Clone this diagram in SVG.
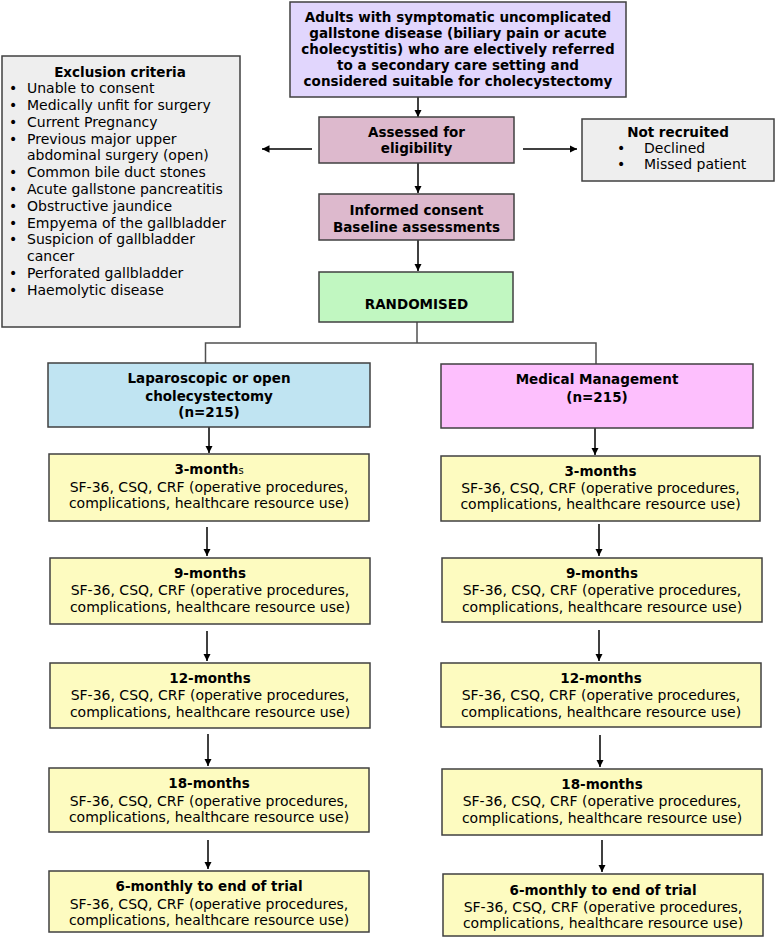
<svg xmlns="http://www.w3.org/2000/svg" width="775" height="937" viewBox="0 0 775 937">
<style>
text{font-family:"DejaVu Sans","Liberation Sans",sans-serif;fill:#000;}
.b{font-weight:bold;font-size:13.5px;text-anchor:middle;}
.t{font-size:14px;text-anchor:middle;}
.l{font-size:14px;}
.box{stroke:#404040;stroke-width:1.5;}
.grey{fill:#eeeeee;}
.lav{fill:#e1d6fd;}
.mauve{fill:#ddb9cd;}
.green{fill:#c1f7c1;}
.blue{fill:#c0e4f2;}
.pink{fill:#fdbffd;}
.yel{fill:#fdfbc0;}
.arr{stroke:#000;stroke-width:1.5;fill:none;marker-end:url(#ah);}
.ln{stroke:#505050;stroke-width:1.5;fill:none;}
</style>
<defs>
<marker id="ah" viewBox="0 0 10 10" refX="10" refY="5" markerWidth="5" markerHeight="5" orient="auto" markerUnits="strokeWidth">
<path d="M0,0 L10,5 L0,10 z" fill="#000"/>
</marker>
</defs>
<rect width="775" height="937" fill="#fff"/>

<g id="connectors">
<line class="arr" x1="418" y1="97" x2="418" y2="117"/>
<line class="arr" x1="312" y1="149" x2="262" y2="149"/>
<line class="arr" x1="523" y1="149" x2="577" y2="149"/>
<line class="arr" x1="418" y1="163" x2="418" y2="193"/>
<line class="arr" x1="418" y1="240" x2="418" y2="271"/>
<polyline class="ln" points="417,322 417,343"/>
<polyline class="ln" points="205.5,364 205.5,343 596,343 596,365"/>
<line class="arr" x1="209" y1="427" x2="209" y2="453"/>
<line class="arr" x1="207" y1="527" x2="207" y2="556"/>
<line class="arr" x1="207" y1="631" x2="207" y2="661"/>
<line class="arr" x1="208" y1="734" x2="208" y2="766"/>
<line class="arr" x1="208" y1="840" x2="208" y2="869"/>
<line class="arr" x1="595" y1="428" x2="595" y2="455"/>
<line class="arr" x1="599" y1="524" x2="599" y2="556"/>
<line class="arr" x1="599" y1="630" x2="599" y2="661"/>
<line class="arr" x1="600" y1="735" x2="600" y2="767"/>
<line class="arr" x1="602" y1="840" x2="602" y2="872"/>
</g>

<g id="population">
<rect class="box lav" x="290" y="2" width="336" height="95"/>
<text class="b" x="458" y="22">Adults with symptomatic uncomplicated</text>
<text class="b" x="458" y="38">gallstone disease (biliary pain or acute</text>
<text class="b" x="458" y="54">cholecystitis) who are electively referred</text>
<text class="b" x="458" y="70">to a secondary care setting and</text>
<text class="b" x="458" y="86">considered suitable for cholecystectomy</text>
</g>

<g id="exclusion">
<rect class="box grey" x="2" y="56" width="238" height="271"/>
<text class="b" x="120" y="77">Exclusion criteria</text>
<text class="l" x="9" y="93">•</text><text class="l" x="27" y="93">Unable to consent</text>
<text class="l" x="9" y="110">•</text><text class="l" x="27" y="110">Medically unfit for surgery</text>
<text class="l" x="9" y="127">•</text><text class="l" x="27" y="127">Current Pregnancy</text>
<text class="l" x="9" y="143.5">•</text><text class="l" x="27" y="143.5">Previous major upper</text>
<text class="l" x="27" y="160.3">abdominal surgery (open)</text>
<text class="l" x="9" y="177">•</text><text class="l" x="27" y="177">Common bile duct stones</text>
<text class="l" x="9" y="194">•</text><text class="l" x="27" y="194">Acute gallstone pancreatitis</text>
<text class="l" x="9" y="210.7">•</text><text class="l" x="27" y="210.7">Obstructive jaundice</text>
<text class="l" x="9" y="227.6">•</text><text class="l" x="27" y="227.6">Empyema of the gallbladder</text>
<text class="l" x="9" y="244.4">•</text><text class="l" x="27" y="244.4">Suspicion of gallbladder</text>
<text class="l" x="27" y="261.3">cancer</text>
<text class="l" x="9" y="278.2">•</text><text class="l" x="27" y="278.2">Perforated gallbladder</text>
<text class="l" x="9" y="295">•</text><text class="l" x="27" y="295">Haemolytic disease</text>
</g>

<g id="assessed">
<rect class="box mauve" x="319" y="117" width="195" height="46"/>
<text class="b" x="416.5" y="137">Assessed for</text>
<text class="b" x="416.5" y="153">eligibility</text>
</g>

<g id="not-recruited">
<rect class="box grey" x="582" y="119" width="192" height="62"/>
<text class="b" x="678" y="137">Not recruited</text>
<text class="l" x="617" y="153">•</text><text class="l" x="644" y="153">Declined</text>
<text class="l" x="617" y="169">•</text><text class="l" x="644" y="169">Missed patient</text>
</g>

<g id="consent">
<rect class="box mauve" x="319" y="194" width="195" height="46"/>
<text class="b" x="416.5" y="215">Informed consent</text>
<text class="b" x="416.5" y="232">Baseline assessments</text>
</g>

<g id="randomised">
<rect class="box green" x="319" y="272" width="194" height="50"/>
<text class="b" x="416.5" y="309">RANDOMISED</text>
</g>

<g id="surgery">
<rect class="box blue" x="48" y="363" width="322" height="64"/>
<text class="b" x="209" y="383">Laparoscopic or open</text>
<text class="b" x="209" y="401">cholecystectomy</text>
<text class="b" x="209" y="417">(n=215)</text>
</g>

<g id="medical">
<rect class="box pink" x="441" y="364" width="312" height="64"/>
<text class="b" x="597" y="384">Medical Management</text>
<text class="b" x="597" y="402">(n=215)</text>
</g>

<g id="s-3m">
<rect class="box yel" x="49" y="454" width="320" height="67"/>
<text class="b" x="209" y="474">3-month<tspan font-size="10" font-weight="normal">s</tspan></text>
<text class="t" x="209" y="492">SF-36, CSQ, CRF (operative procedures,</text>
<text class="t" x="209" y="508">complications, healthcare resource use)</text>
</g>
<g id="s-9m">
<rect class="box yel" x="50" y="558" width="320" height="66"/>
<text class="b" x="210" y="578">9-months</text>
<text class="t" x="210" y="595">SF-36, CSQ, CRF (operative procedures,</text>
<text class="t" x="210" y="612">complications, healthcare resource use)</text>
</g>
<g id="s-12m">
<rect class="box yel" x="50" y="663" width="320" height="65"/>
<text class="b" x="210" y="683">12-months</text>
<text class="t" x="210" y="700">SF-36, CSQ, CRF (operative procedures,</text>
<text class="t" x="210" y="717">complications, healthcare resource use)</text>
</g>
<g id="s-18m">
<rect class="box yel" x="49" y="768" width="320" height="64"/>
<text class="b" x="209" y="788">18-months</text>
<text class="t" x="209" y="806">SF-36, CSQ, CRF (operative procedures,</text>
<text class="t" x="209" y="822">complications, healthcare resource use)</text>
</g>
<g id="s-6mly">
<rect class="box yel" x="49" y="871" width="320" height="61"/>
<text class="b" x="209" y="891">6-monthly to end of trial</text>
<text class="t" x="209" y="909">SF-36, CSQ, CRF (operative procedures,</text>
<text class="t" x="209" y="925">complications, healthcare resource use)</text>
</g>

<g id="m-3m">
<rect class="box yel" x="441" y="456" width="319" height="65"/>
<text class="b" x="600.5" y="476">3-months</text>
<text class="t" x="600.5" y="493">SF-36, CSQ, CRF (operative procedures,</text>
<text class="t" x="600.5" y="509">complications, healthcare resource use)</text>
</g>
<g id="m-9m">
<rect class="box yel" x="442" y="558" width="320" height="64"/>
<text class="b" x="602" y="578">9-months</text>
<text class="t" x="602" y="595">SF-36, CSQ, CRF (operative procedures,</text>
<text class="t" x="602" y="612">complications, healthcare resource use)</text>
</g>
<g id="m-12m">
<rect class="box yel" x="441" y="663" width="320" height="64"/>
<text class="b" x="601" y="683">12-months</text>
<text class="t" x="601" y="700">SF-36, CSQ, CRF (operative procedures,</text>
<text class="t" x="601" y="717">complications, healthcare resource use)</text>
</g>
<g id="m-18m">
<rect class="box yel" x="442" y="769" width="320" height="66"/>
<text class="b" x="602" y="789">18-months</text>
<text class="t" x="602" y="806">SF-36, CSQ, CRF (operative procedures,</text>
<text class="t" x="602" y="823">complications, healthcare resource use)</text>
</g>
<g id="m-6mly">
<rect class="box yel" x="443" y="874" width="320" height="62"/>
<text class="b" x="603" y="895">6-monthly to end of trial</text>
<text class="t" x="603" y="912">SF-36, CSQ, CRF (operative procedures,</text>
<text class="t" x="603" y="928">complications, healthcare resource use)</text>
</g>
</svg>
